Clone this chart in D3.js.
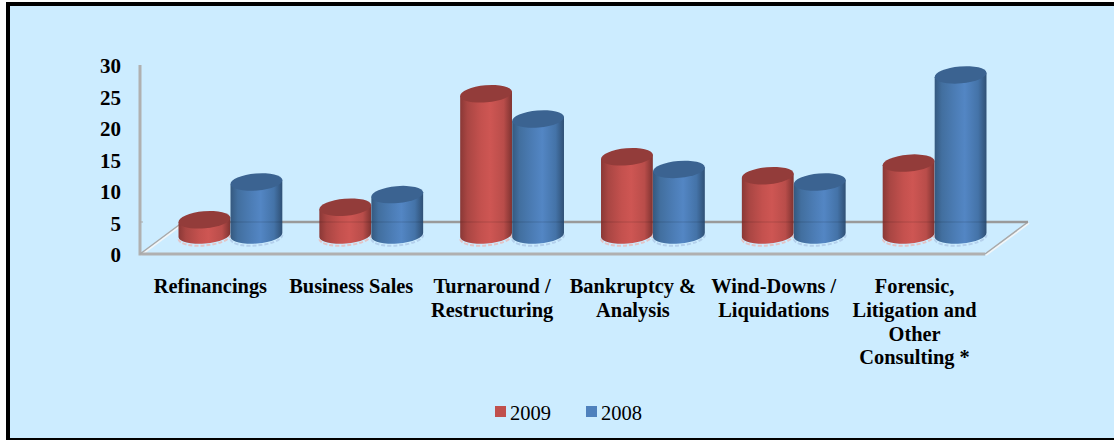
<!DOCTYPE html>
<html>
<head>
<meta charset="utf-8">
<script src="https://cdn.jsdelivr.net/npm/d3@7"></script>
<style>
  html, body { margin: 0; padding: 0; background: #fff; }
  svg { display: block; font-family: "Liberation Serif", serif; }
</style>
</head>
<body>
<div id="wrapper"></div>
<script>
// 1. Data
const categories = [
  ["Refinancings"],
  ["Business Sales"],
  ["Turnaround /", "Restructuring"],
  ["Bankruptcy &", "Analysis"],
  ["Wind-Downs /", "Liquidations"],
  ["Forensic,", "Litigation and", "Other", "Consulting *"],
]
const seriesNames = ["2009", "2008"]
const values2009 = [4, 6, 24, 14, 11, 13]
const values2008 = [10, 8, 20, 12, 10, 27]
const yTicks = [0, 5, 10, 15, 20, 25, 30]

const seriesColors = {
  "2009": {
    legend: "#c0504d", top: "#933c3a",
    stops: ["#8a3836", "#a94643", "#c4514e", "#ce5653", "#b94d4a", "#7f3331"],
  },
  "2008": {
    legend: "#4f81bd", top: "#3b6391",
    stops: ["#35597f", "#426f9f", "#4c7db6", "#5386c4", "#4473a8", "#2f5075"],
  },
}

// 2. Dimensions
const width = 1114
const height = 440
const depth = { x: 43, y: 32 }
const floor = { left: 140, right: 985, front: 254 }
const cylinder = { rx: 26, ry: 8.5, rotate: -5, baseY: 19, topLift: 9, depthX: 20 }

// 3. Canvas
const svg = d3.select("#wrapper").append("svg")
  .attr("width", width)
  .attr("height", height)

svg.append("rect")
  .attr("x", 8).attr("y", 4)
  .attr("width", width - 8).attr("height", height - 5)
  .attr("fill", "#ccecff")

const border = svg.append("g").attr("stroke", "#000").attr("fill", "none")
border.append("path").attr("stroke-width", 4).attr("d", `M8,${height} V4 H${width}`)
border.append("path").attr("stroke-width", 2).attr("d", `M8,${height - 1} H${width}`)

// 4. Scales
const xScale = d3.scaleBand()
  .domain(d3.range(categories.length))
  .range([floor.left, floor.right])

const seriesScale = d3.scaleBand()
  .domain(seriesNames)
  .range([0, 104])

const yScale = d3.scaleLinear()
  .domain([0, 30])
  .range([floor.front, 65])

// 5. Gradients
const defs = svg.append("defs")
seriesNames.forEach(name => {
  const gradient = defs.append("linearGradient")
    .attr("id", `body-${name}`)
    .attr("x1", 0).attr("x2", 1).attr("y1", 0).attr("y2", 0)
  const offsets = [0, 0.14, 0.4, 0.58, 0.84, 1]
  seriesColors[name].stops.forEach((c, i) => {
    gradient.append("stop").attr("offset", offsets[i]).attr("stop-color", c)
  })
})

// 6. Floor and wall
const walls = svg.append("g").attr("fill", "none")
const backY = floor.front - depth.y

// pale edge on the floor diagonals
walls.append("path")
  .attr("d", `M${floor.left + 1},${floor.front + 1} L${floor.left + depth.x + 1},${backY + 1} M${floor.right + 1},${floor.front + 1} L${floor.right + depth.x + 1},${backY + 1}`)
  .attr("stroke", "#f2f6f8").attr("stroke-width", 2)
walls.append("path")
  .attr("d", `M${floor.left},${yScale(30)} V${floor.front} H${floor.right}`)
  .attr("stroke", "#b0b0b0").attr("stroke-width", 3)
walls.append("path")
  .attr("d", `M${floor.left},${floor.front} L${floor.left + depth.x},${backY} M${floor.right},${floor.front} L${floor.right + depth.x},${backY}`)
  .attr("stroke", "#a9a9a9").attr("stroke-width", 1.5)
walls.append("path")
  .attr("d", `M${floor.left + depth.x},${backY} H${floor.right + depth.x}`)
  .attr("stroke", "#9a9a9a").attr("stroke-width", 2.5)
walls.append("path")
  .attr("d", `M${floor.left},${backY} h3`)
  .attr("stroke", "#a9a9a9").attr("stroke-width", 1)

// 7. Cylinders
const rad = cylinder.rotate * Math.PI / 180
const offX = cylinder.rx * Math.cos(rad)
const offY = cylinder.rx * Math.sin(rad)
const baseCenter = floor.front - cylinder.baseY

const rows = d3.merge(categories.map((c, i) => [
  { i, name: "2009", value: values2009[i] },
  { i, name: "2008", value: values2008[i] },
]))

const cx = d => xScale(d.i) + xScale.bandwidth() / 2 - 52 + cylinder.depthX + seriesScale(d.name) + seriesScale.bandwidth() / 2
const topY = d => yScale(d.value) - cylinder.topLift
const arcTo = (x, y, sweep) => `A${cylinder.rx},${cylinder.ry} ${cylinder.rotate} 0 ${sweep} ${x},${y}`

const bars = svg.append("g").selectAll("g")
  .data(rows)
  .enter().append("g")

// dashed pale fringe under each base
bars.append("path")
  .attr("d", d => `M${cx(d) - offX},${baseCenter - offY + 2} ${arcTo(cx(d) + offX, baseCenter + offY + 2, 0)}`)
  .attr("fill", "none")
  .attr("stroke", d => d.name === "2009" ? "#e3c4c6" : "#b4d0ec")
  .attr("stroke-width", 2)
  .attr("stroke-dasharray", "4 2")

bars.append("path")
  .attr("d", d => `M${cx(d) - offX},${baseCenter - offY} ${arcTo(cx(d) + offX, baseCenter + offY, 0)} L${cx(d) + offX},${topY(d) + offY} L${cx(d) - offX},${topY(d) - offY} Z`)
  .attr("fill", d => `url(#body-${d.name})`)

bars.append("ellipse")
  .attr("rx", cylinder.rx)
  .attr("ry", cylinder.ry)
  .attr("transform", d => `translate(${cx(d)},${topY(d)}) rotate(${cylinder.rotate})`)
  .attr("fill", d => seriesColors[d.name].top)

// back wall line shows faintly through the cylinders
svg.append("g").selectAll("line")
  .data(rows.filter(d => topY(d) < backY - cylinder.ry))
  .enter().append("line")
    .attr("x1", d => cx(d) - offX).attr("x2", d => cx(d) + offX)
    .attr("y1", backY).attr("y2", backY)
    .attr("stroke", "#000").attr("stroke-opacity", 0.07).attr("stroke-width", 2)

// 8. Axis and labels
const yAxis = d3.axisLeft(yScale)
  .tickValues(yTicks)
  .tickSize(0)
  .tickPadding(19)

svg.append("g")
  .attr("transform", `translate(${floor.left},1)`)
  .call(yAxis)
  .call(g => g.select(".domain").remove())
  .selectAll("text")
    .attr("font-family", "Liberation Serif")
    .attr("font-size", 21)
    .attr("font-weight", "bold")
    .attr("fill", "#000")

const labels = svg.append("g").selectAll("text")
  .data(categories)
  .enter().append("text")
    .attr("text-anchor", "middle")
    .attr("font-size", 20.4)
    .attr("font-weight", "bold")
    .attr("fill", "#000")

labels.selectAll("tspan")
  .data((d, i) => d.map((line, j) => ({ line, j, i })))
  .enter().append("tspan")
    .attr("x", d => xScale(d.i) + xScale.bandwidth() / 2)
    .attr("y", d => 293 + d.j * 23.8)
    .text(d => d.line)

// 9. Legend
const legendX = d3.scalePoint()
  .domain(seriesNames)
  .range([495, 586])

const legend = svg.append("g").selectAll("g")
  .data(seriesNames)
  .enter().append("g")
    .attr("transform", d => `translate(${legendX(d)},406)`)

legend.append("rect")
  .attr("width", 11).attr("height", 11)
  .attr("fill", d => seriesColors[d].legend)

legend.append("text")
  .attr("x", 15).attr("y", 13.5)
  .attr("font-size", 20.5)
  .attr("fill", "#000")
  .text(d => d)
</script>
</body>
</html>
